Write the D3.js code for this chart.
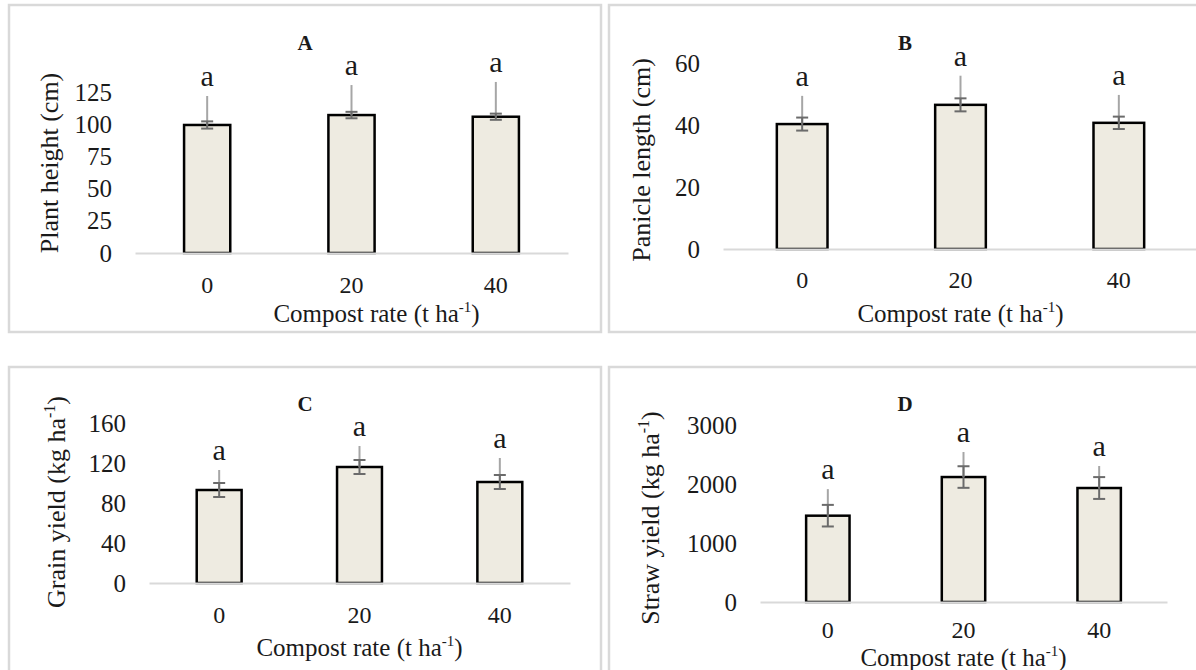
<!DOCTYPE html>
<html>
<head>
<meta charset="utf-8">
<script src="https://cdn.jsdelivr.net/npm/d3@7"></script>
<style>
  body { margin: 0; background: #fff; }
  svg { display: block; }
  svg text { font-family: "Liberation Serif", "Times New Roman", serif !important; fill: #1a1a1a; }
</style>
</head>
<body>
<svg id="chart" width="1196" height="670"></svg>
<script>
// compost rates on the x axis
var categories = ["0", "20", "40"];

// A - plant height (cm)
var heightMean = [99.4, 107.1, 105.8];
var heightSE = [2.8, 2.5, 2.4];
var heightSD = [22.5, 23.3, 27];
var heightTicks = [0, 25, 50, 75, 100, 125];

// B - panicle length (cm)
var panicleMean = [40.3, 46.5, 40.7];
var panicleSE = [2.1, 2.1, 2.0];
var panicleSD = [9.1, 9.4, 9.0];
var panicleTicks = [0, 20, 40, 60];

// C - grain yield (kg/ha)
var grainMean = [93, 116, 101];
var grainSE = [7, 7, 7];
var grainSD = [20, 21, 24];
var grainTicks = [0, 40, 80, 120, 160];

// D - straw yield (kg/ha)
var strawMean = [1463, 2118, 1932];
var strawSE = [183, 183, 185];
var strawSD = [450, 424, 373];
var strawTicks = [0, 1000, 2000, 3000];

var letters = ["a", "a", "a"];

var serif = "'Liberation Serif', 'Times New Roman', serif";
var svg = d3.select("#chart");

function panel(opt) {
    var g = svg.append("g").attr("font-family", serif);

    // light grey frame round each panel
    g.append("rect")
        .attr("x", opt.box[0]).attr("y", opt.box[1])
        .attr("width", opt.box[2] - opt.box[0]).attr("height", opt.box[3] - opt.box[1])
        .attr("fill", "none").attr("stroke", "#d9d9d9").attr("stroke-width", 2.5);

    var x = d3.scaleBand()
        .domain(categories)
        .range([opt.plot[0], opt.plot[1]])
        .paddingInner(0.68)
        .paddingOuter(0.34);

    var ticks = opt.ticks;
    var y = d3.scaleLinear()
        .domain([0, ticks[ticks.length - 1]])
        .range([opt.base, opt.top]);

    // y axis: labels only
    var ya = g.append("g")
        .attr("transform", "translate(" + opt.plot[0] + ",0)")
        .call(d3.axisLeft(y).tickValues(ticks).tickSize(0).tickPadding(23).tickFormat(d3.format("d")));
    ya.attr("font-family", serif).attr("font-size", 25);
    ya.select(".domain").remove();
    ya.selectAll("text").attr("fill", "#1a1a1a");

    // bars
    var rows = categories.map(function(c, i) {
        return { cat: c, mean: opt.mean[i], se: opt.se[i], sd: opt.sd[i], letter: letters[i] };
    });

    g.selectAll("rect.bar")
        .data(rows)
        .enter()
        .append("rect")
        .attr("class", "bar")
        .attr("x", function(d) { return x(d.cat) })
        .attr("width", x.bandwidth())
        .attr("y", function(d) { return y(d.mean) })
        .attr("height", function(d) { return opt.base - y(d.mean) })
        .attr("fill", "#eeebe1")
        .attr("stroke", "#000")
        .attr("stroke-width", 2.5);

    // x axis: grey baseline and labels
    var xa = g.append("g")
        .attr("transform", "translate(0," + opt.base + ")")
        .call(d3.axisBottom(x).tickSize(0).tickSizeOuter(0).tickPadding(opt.xPad));
    xa.attr("font-family", serif).attr("font-size", 24);
    xa.select(".domain").attr("stroke", "#d9d9d9").attr("stroke-width", 2);
    xa.selectAll("text").attr("fill", "#1a1a1a");

    var cx = function(d) { return x(d.cat) + x.bandwidth() / 2 };

    // upper light error line
    g.selectAll("line.sd")
        .data(rows)
        .enter()
        .append("line")
        .attr("x1", cx).attr("x2", cx)
        .attr("y1", function(d) { return y(d.mean) })
        .attr("y2", function(d) { return y(d.mean + d.sd) })
        .attr("stroke", "#a6a6a6")
        .attr("stroke-width", 2);

    // capped standard error
    var se = g.selectAll("g.se")
        .data(rows)
        .enter()
        .append("g")
        .attr("stroke", "#6b6b6b")
        .attr("stroke-width", 2);
    se.append("line")
        .attr("x1", cx).attr("x2", cx)
        .attr("y1", function(d) { return y(d.mean - d.se) })
        .attr("y2", function(d) { return y(d.mean + d.se) });
    se.append("line")
        .attr("x1", function(d) { return cx(d) - 6 }).attr("x2", function(d) { return cx(d) + 6 })
        .attr("y1", function(d) { return y(d.mean + d.se) })
        .attr("y2", function(d) { return y(d.mean + d.se) });
    se.append("line")
        .attr("x1", function(d) { return cx(d) - 6 }).attr("x2", function(d) { return cx(d) + 6 })
        .attr("y1", function(d) { return y(d.mean - d.se) })
        .attr("y2", function(d) { return y(d.mean - d.se) });

    // significance letters
    g.selectAll("text.letter")
        .data(rows)
        .enter()
        .append("text")
        .attr("class", "letter")
        .attr("x", cx)
        .attr("y", function(d) { return y(d.mean + d.sd) - 10 })
        .attr("text-anchor", "middle")
        .attr("font-size", 30)
        .text(function(d) { return d.letter });

    // panel letter
    g.append("text")
        .attr("x", (opt.box[0] + opt.box[2]) / 2)
        .attr("y", opt.titleY + 7)
        .attr("text-anchor", "middle")
        .attr("font-size", 21)
        .attr("font-weight", "bold")
        .text(opt.title);

    // x axis title
    var xt = g.append("text")
        .attr("x", (opt.plot[0] + opt.plot[1]) / 2 + (opt.xShift || 0))
        .attr("y", opt.xTitleY + 8)
        .attr("text-anchor", "middle")
        .attr("font-size", 25);
    xt.append("tspan").text("Compost rate (t ha");
    xt.append("tspan").attr("font-size", 15).attr("dy", -10).text("-1");
    xt.append("tspan").attr("dy", 10).text(")");

    // y axis title
    var yt = g.append("text")
        .attr("transform", "translate(" + (opt.yTitle[0] + 8) + "," + opt.yTitle[1] + ") rotate(-90)")
        .attr("text-anchor", "middle")
        .attr("font-size", 26);
    if (opt.yUnit) {
        yt.append("tspan").text(opt.yLabel + " (kg ha");
        yt.append("tspan").attr("font-size", 16).attr("dy", -10).text("-1");
        yt.append("tspan").attr("dy", 10).text(")");
    } else {
        yt.text(opt.yLabel);
    }
}

panel({
    title: "A", box: [9, 5, 601, 332], plot: [135, 568], base: 253, top: 92,
    ticks: heightTicks, mean: heightMean, se: heightSE, sd: heightSD,
    xPad: 23, titleY: 43, xTitleY: 314, xShift: 25, yTitle: [50, 163], yLabel: "Plant height (cm)"
});
panel({
    title: "B", box: [609, 5, 1201, 332], plot: [723, 1198], base: 249, top: 63,
    ticks: panicleTicks, mean: panicleMean, se: panicleSE, sd: panicleSD,
    xPad: 22, titleY: 43, xTitleY: 314, yTitle: [642, 160], yLabel: "Panicle length (cm)"
});
panel({
    title: "C", box: [9, 367, 601, 690], plot: [149, 570], base: 583, top: 423,
    ticks: grainTicks, mean: grainMean, se: grainSE, sd: grainSD,
    xPad: 23, titleY: 404, xTitleY: 648, yTitle: [57, 502], yLabel: "Grain yield", yUnit: true
});
panel({
    title: "D", box: [609, 367, 1201, 690], plot: [760, 1167], base: 602, top: 425,
    ticks: strawTicks, mean: strawMean, se: strawSE, sd: strawSD,
    xPad: 19, titleY: 404, xTitleY: 658, yTitle: [651, 518], yLabel: "Straw yield", yUnit: true
});
</script>
</body>
</html>
